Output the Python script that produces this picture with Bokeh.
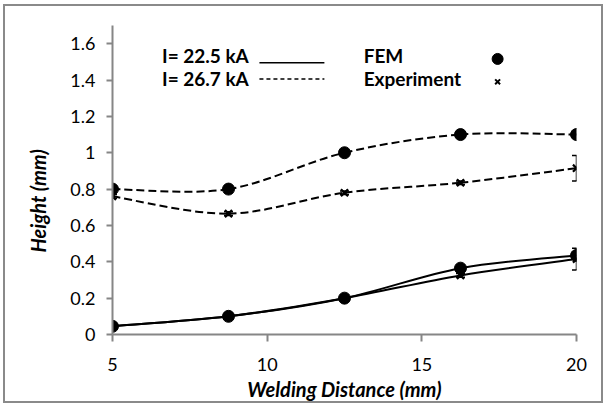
import numpy as np
from bokeh.plotting import figure
from bokeh.models import Range1d, FixedTicker, Title
from bokeh.core.properties import value
from bokeh.embed import file_html
from bokeh.resources import INLINE

# ---------------- data ----------------
distance = [5, 8.75, 12.5, 16.25, 20]
fem_225 = [0.045, 0.10, 0.20, 0.365, 0.435]
exp_225 = [0.045, 0.10, 0.20, 0.325, 0.415]
exp_225_err = [0.01, 0.01, 0.01, 0.01, 0.06]
fem_267 = [0.80, 0.80, 1.00, 1.10, 1.10]
exp_267 = [0.76, 0.665, 0.78, 0.835, 0.915]
exp_267_err = [0.01, 0.01, 0.01, 0.01, 0.07]

x_ticks = [5, 10, 15, 20]
x_tick_labels = ["5", "10", "15", "20"]
y_ticks = [0, 0.2, 0.4, 0.6, 0.8, 1.0, 1.2, 1.4, 1.6]
y_tick_labels = ["0", "0.2", "0.4", "0.6", "0.8", "1", "1.2", "1.4", "1.6"]

x_title = "Welding Distance (mm)"
y_title = "Height (mm)"
legend_current = ["I= 22.5 kA", "I= 26.7 kA"]
legend_source = ["FEM", "Experiment"]

# ---------------- style / layout ----------------
FONT = "Lato"
AXIS_GRAY = "#868686"
# legend placement (data units of the plot area)
LEG_TEXT_X = 6.6
LEG_TEXT_Y = [1.537, 1.41]
LEG_LINE_X = [9.75, 11.85]
LEG_LINE_Y = [1.495, 1.405]
LEG_SRC_X = 13.12
LEG_SRC_Y = [1.537, 1.41]
LEG_MARK_X = 17.45
LEG_MARK_Y = [1.516, 1.39]

p = figure(width=600, height=399, output_backend="svg", toolbar_location=None,
           x_range=Range1d(5, 20), y_range=Range1d(0, 1.7),
           min_border_left=104, min_border_right=29, min_border_top=19,
           min_border_bottom=71)
p.styles = {"border": "2px solid #8a8a8a", "margin-left": "3px",
            "margin-top": "4px"}
p.outline_line_color = None
p.xgrid.visible = False
p.ygrid.visible = False
p.background_fill_color = "white"
p.border_fill_color = "white"

for ax in (p.xaxis[0], p.yaxis[0]):
    ax.axis_line_color = AXIS_GRAY
    ax.axis_line_width = 2
    ax.major_tick_line_color = AXIS_GRAY
    ax.major_tick_line_width = 2
    ax.major_tick_in = 0
    ax.minor_tick_line_color = None
    ax.major_label_text_font = FONT
    ax.major_label_text_font_size = "18px"
    ax.major_label_text_color = "black"

p.xaxis[0].ticker = FixedTicker(ticks=x_ticks)
p.xaxis[0].major_label_overrides = {t: l for t, l in zip(x_ticks, x_tick_labels)}
p.xaxis[0].major_tick_out = 7
p.xaxis[0].major_label_standoff = 16
p.yaxis[0].ticker = FixedTicker(ticks=y_ticks)
p.yaxis[0].major_label_overrides = {t: l for t, l in zip(y_ticks, y_tick_labels)}
p.yaxis[0].major_tick_out = 6
p.yaxis[0].major_label_standoff = 11


def smooth(xs, ys):
    x = np.asarray(xs, float)
    y = np.asarray(ys, float)
    xp = np.concatenate([[x[0]], x, [x[-1]]])
    yp = np.concatenate([[y[0]], y, [y[-1]]])
    i = np.arange(len(x) - 1)
    P0x, P1x, P2x, P3x = xp[i], xp[i + 1], xp[i + 2], xp[i + 3]
    P0y, P1y, P2y, P3y = yp[i], yp[i + 1], yp[i + 2], yp[i + 3]
    return dict(x0=P1x, y0=P1y, x1=P2x, y1=P2y,
                cx0=P1x + (P2x - P0x) / 6, cy0=P1y + (P2y - P0y) / 6,
                cx1=P2x - (P3x - P1x) / 6, cy1=P2y - (P3y - P1y) / 6)


DASH = "8 4"
for ys, dash in ((fem_225, "solid"), (exp_225, "solid"),
                 (fem_267, DASH), (exp_267, DASH)):
    p.bezier(**smooth(distance, ys), line_color="black", line_width=2,
             line_dash=dash)

# error bars
for ys, err in ((exp_225, exp_225_err), (exp_267, exp_267_err)):
    lo = [v - e for v, e in zip(ys, err)]
    hi = [v + e for v, e in zip(ys, err)]
    p.segment(x0=distance, y0=lo, x1=distance, y1=hi, line_color="black",
              line_width=1.5)
    p.scatter(x=distance + distance, y=lo + hi, marker="dash", size=9,
              line_color="black", line_width=1.5)

# markers
for ys in (fem_225, fem_267):
    p.scatter(x=distance, y=ys, marker="circle", size=12, fill_color="black",
              line_color="black")
for ys in (exp_225, exp_267):
    p.scatter(x=distance, y=ys, marker="x", size=10, line_color="black",
              line_width=2.2)

# custom legend
p.text(x=[LEG_TEXT_X] * 2, y=LEG_TEXT_Y, text=legend_current,
       text_font=value(FONT), text_font_style="bold", text_font_size="19px",
       text_baseline="middle", text_align="left", text_color="black")
p.text(x=[LEG_SRC_X] * 2, y=LEG_SRC_Y, text=legend_source,
       text_font=value(FONT), text_font_style="bold", text_font_size="19px",
       text_baseline="middle", text_align="left", text_color="black")
p.line(x=LEG_LINE_X, y=[LEG_LINE_Y[0]] * 2, line_color="black", line_width=1.5)
p.line(x=LEG_LINE_X, y=[LEG_LINE_Y[1]] * 2, line_color="black", line_width=1.5,
       line_dash="4 3")
p.scatter(x=[LEG_MARK_X], y=[LEG_MARK_Y[0]], marker="circle", size=11,
          fill_color="black", line_color="black")
p.scatter(x=[LEG_MARK_X], y=[LEG_MARK_Y[1]], marker="x", size=7,
          line_color="black", line_width=2)

# axis titles
p.add_layout(Title(text=x_title, align="center", offset=0, standoff=2,
                   text_font=FONT, text_font_style="bold italic",
                   text_font_size="20px", text_color="black"), "below")
p.add_layout(Title(text=y_title, align="left", offset=82, standoff=36,
                   text_font=FONT, text_font_style="bold italic",
                   text_font_size="20px", text_color="black"), "left")

open("out.html", "w").write(file_html(p, INLINE))
